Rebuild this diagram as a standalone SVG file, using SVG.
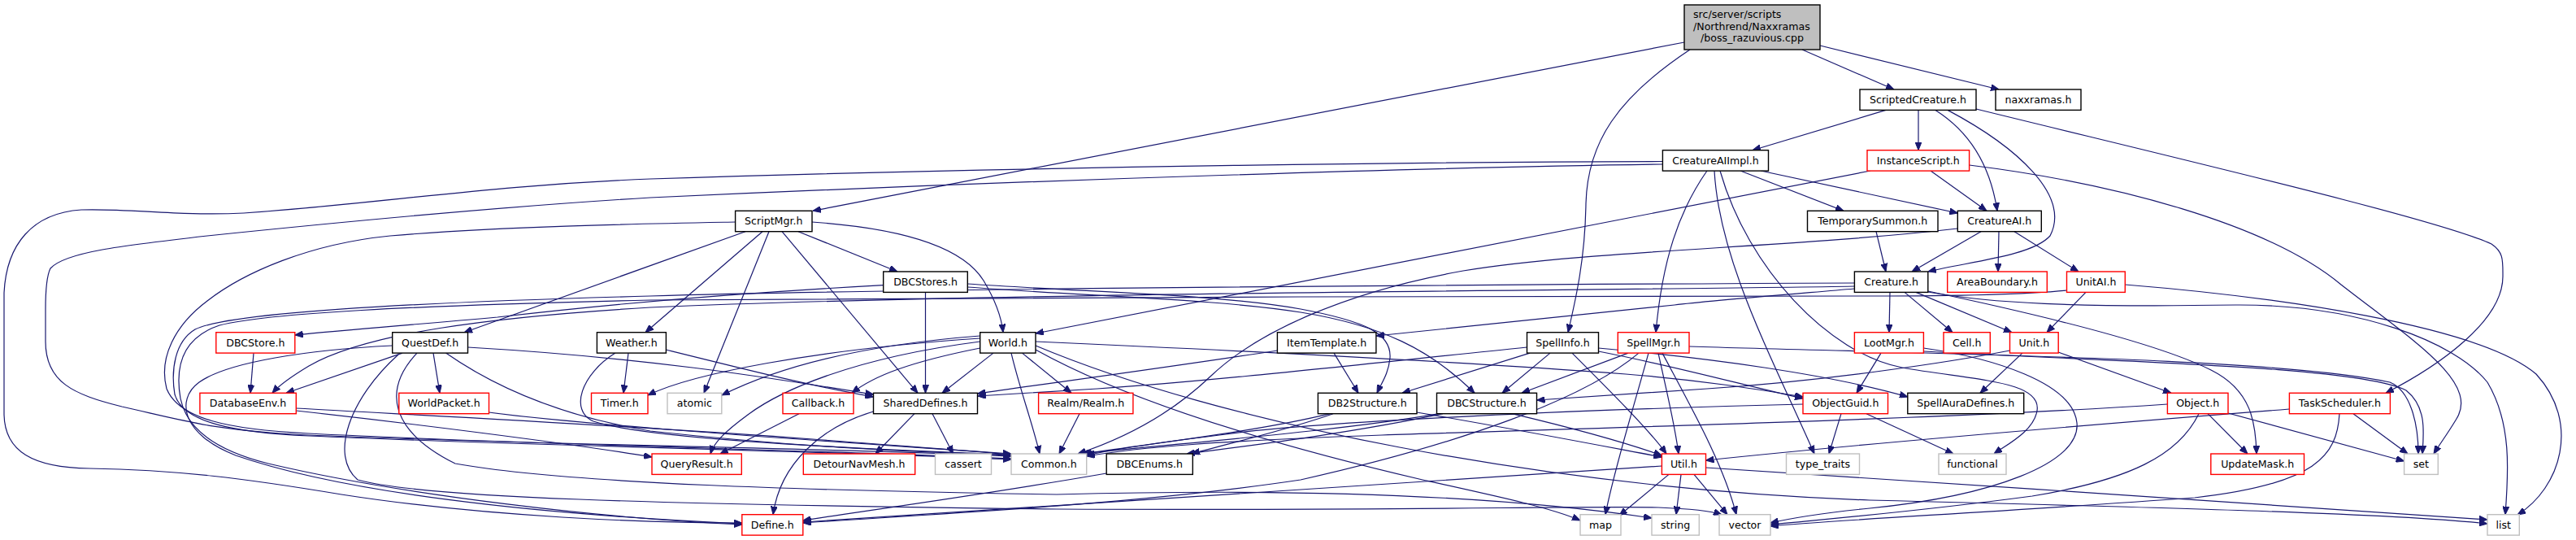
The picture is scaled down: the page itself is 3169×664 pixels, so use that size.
<svg xmlns="http://www.w3.org/2000/svg" width="3169" height="664" viewBox="0 0 3169 664">
<style>
.e{fill:none;stroke:#191970;stroke-width:1.2;marker-end:url(#ah)}
.b rect{fill:#fff;stroke:#000;stroke-width:1.4}
.r rect{fill:#fff;stroke:#ff0000;stroke-width:1.4}
.g rect{fill:#fff;stroke:#bfbfbf;stroke-width:1.4}
.root rect{fill:#bfbfbf;stroke:#000;stroke-width:1.4}
text{font-family:"DejaVu Sans","Liberation Sans",sans-serif;font-size:12.6px;fill:#000;text-anchor:middle}
text.l{text-anchor:start}
</style>
<defs>
<marker id="ah" viewBox="0 0 10 8" refX="10" refY="4" markerWidth="10" markerHeight="8" markerUnits="userSpaceOnUse" orient="auto"><path d="M0,0 L10,4 L0,8 z" fill="#191970" stroke="#191970" stroke-width="1"/></marker>
</defs>
<rect width="3169" height="664" fill="#fff"/>
<g id="edges">
<path class="e" d="M2072,52 L1000,259.3"/>
<path class="e" d="M2079,61 C1990,120 1953,175 1951,250 C1950,320 1938,370 1929,408.7"/>
<path class="e" d="M2217,61 L2330,110"/>
<path class="e" d="M2239,56 L2459,110"/>
<path class="e" d="M2320,135.4 L2156,184.7"/>
<path class="e" d="M2360,135.4 L2360,184.7"/>
<path class="e" d="M2381,135.4 C2420,160 2448,200 2457,259.3"/>
<path class="e" d="M2396,135.4 C2480,180 2548,240 2522,290 C2500,315 2420,322 2372,334"/>
<path class="e" d="M2431,134 C2700,200 3000,270 3065,300 C3080,310 3079,320 3079,340 C3079,395 3000,450 2935,483.3"/>
<path class="e" d="M2301,210 L1274,410"/>
<path class="e" d="M2375,210 L2444,259.3"/>
<path class="e" d="M2422.6,203 C2600,225 2790,275 2880,350 C2970,420 3050,470 3022,515 C3010,535 3000,548 2994,558"/>
<path class="e" d="M2045.4,198.5 C1800,199 1300,204 800,220 C600,228 470,250 300,262 C220,266 160,256 100,258 C40,262 8,300 5,360 L5,510 C6,555 40,575 110,576 C220,578 300,588 420,608 C600,636 800,643 912.8,643"/>
<path class="e" d="M2045.4,202 C1800,205 1300,220 800,243 C600,255 400,275 255,290 C150,302 80,310 62,330 C57,340 56,360 56,380 L56,420 C56,470 90,485 150,500 C230,518 260,528 360,534 C600,546 1000,550 1244,561"/>
<path class="e" d="M2100,210 C2065,260 2045,320 2037,408.7"/>
<path class="e" d="M2109,210 C2115,320 2180,440 2232,558"/>
<path class="e" d="M2116,210 C2150,330 2250,435 2340,452 C2430,468 2512,468 2506,505 C2502,530 2470,546 2453,558"/>
<path class="e" d="M2141,210 L2268,259.3"/>
<path class="e" d="M2166,210 L2408.3,262"/>
<path class="e" d="M2308,284.7 L2320,334"/>
<path class="e" d="M2437,284.7 L2352,334"/>
<path class="e" d="M2459,284.7 L2458,334"/>
<path class="e" d="M2478,284.7 L2557,334"/>
<path class="e" d="M2408.3,281 C2200,305 1950,308 1800,333 C1650,360 1545,410 1490,462 C1440,510 1380,540 1326,558"/>
<path class="e" d="M917,284.7 L571,408.7"/>
<path class="e" d="M938,284.7 L794,408.7"/>
<path class="e" d="M946,284.7 L866,483.3"/>
<path class="e" d="M962,284.7 L1129,483.3"/>
<path class="e" d="M982,284.7 L1104,334"/>
<path class="e" d="M999,273 C1100,280 1182,300 1210,345 C1225,370 1232,390 1234,408.7"/>
<path class="e" d="M904.6,273 C800,275 620,278 480,290 C380,300 300,335 255,370 C215,400 195,440 205,478 C220,515 280,528 380,533 C650,547 1000,553 1244,564"/>
<path class="e" d="M1086.7,350.7 C950,358 800,368 612,390 C500,400 420,406 362.8,412"/>
<path class="e" d="M1138.5,359.4 L1138.5,483.3"/>
<path class="e" d="M1190.3,349 C1350,360 1500,362 1600,380 C1680,395 1712,410 1710,440 C1708,460 1700,470 1694,483.3"/>
<path class="e" d="M1190.3,353 C1350,365 1500,368 1600,384 C1700,400 1760,430 1814,483.3"/>
<path class="e" d="M2281.4,355 C2200,362 2100,370 2060,375 C1900,392 1780,404 1692.9,413"/>
<path class="e" d="M2281.4,352 C2000,357 1200,360 800,378 C600,390 450,410 380,450 C360,462 345,472 335,483.3"/>
<path class="e" d="M2281.4,348 C1800,350 1100,355 800,364 C500,372 280,385 240,405 C215,420 210,455 215,485 C225,520 290,532 380,536 C650,548 1000,554 1244,565"/>
<path class="e" d="M2542.5,357 C2480,363 2400,364 2300,364 L1600,365 C1200,366 1000,366 800,369 C500,376 330,385 270,400 C225,415 215,450 222,490 C230,530 270,555 330,570 C500,610 750,638 912.8,645"/>
<path class="e" d="M2325,359.4 L2324,408.7"/>
<path class="e" d="M2343,359.4 L2402,408.7"/>
<path class="e" d="M2357,359.4 L2475,408.7"/>
<path class="e" d="M2371.8,358 C2500,385 2650,420 2720,455 C2770,480 2775,520 2776,558"/>
<path class="e" d="M2371.8,359 C2450,373 2550,378 2750,375 C2900,374 3020,420 3060,470 C3090,520 3086,580 3082,632.7"/>
<path class="e" d="M2566,359.4 L2518,408.7"/>
<path class="e" d="M2614.3,350 C2800,365 3050,400 3120,460 C3175,520 3150,600 3097,633"/>
<path class="e" d="M2314,434.1 L2284,483.3"/>
<path class="e" d="M2366.4,428 C2450,440 2550,470 2555,520 C2560,570 2450,610 2300,625 C2230,632 2200,638 2178,643"/>
<path class="e" d="M2366.4,432 C2600,445 2900,450 2960,480 C2985,500 2982,530 2980,558"/>
<path class="e" d="M2488,434.1 L2436,483.3"/>
<path class="e" d="M2532,433 L2671,483.3"/>
<path class="e" d="M2472.5,431 C2400,445 2250,468 2100,478 C2000,485 1930,490 1890.5,492"/>
<path class="e" d="M1882,434.1 L1725,483.3"/>
<path class="e" d="M1907,434.1 L1848,483.3"/>
<path class="e" d="M1934,434.1 C1980,480 2030,530 2050,558"/>
<path class="e" d="M1878.5,427 C1700,445 1500,468 1350,478 C1280,482 1230,485 1202.5,487"/>
<path class="e" d="M1966.4,428 C2100,440 2250,460 2346.8,488"/>
<path class="e" d="M1966.4,432 C2060,450 2150,475 2218,490"/>
<path class="e" d="M1641,434.1 L1671,483.3"/>
<path class="e" d="M1571.4,431 C1450,450 1300,470 1202.5,484"/>
<path class="e" d="M2003,434.1 L1872,483.3"/>
<path class="e" d="M2028,434.1 C2010,500 1985,580 1975,632.7"/>
<path class="e" d="M2040,434.1 C2050,480 2060,520 2065,558"/>
<path class="e" d="M2045,434.1 C2080,500 2120,570 2136,632.7"/>
<path class="e" d="M2016,434.1 C1950,490 1800,545 1600,590 C1400,620 1150,632 987.8,643"/>
<path class="e" d="M2078,426 C2400,436 2800,440 2940,470 C2965,480 2975,520 2975,558"/>
<path class="e" d="M1205.7,413 C1050,425 950,455 888,486"/>
<path class="e" d="M1205.7,416 C1000,430 850,460 797,486"/>
<path class="e" d="M1205.7,420 C1050,440 960,480 920,510 C890,532 878,545 874,558"/>
<path class="e" d="M1205.7,428 C1120,445 1075,462 1048,483.3"/>
<path class="e" d="M1222,434.1 L1159,483.3"/>
<path class="e" d="M1244,434.1 C1255,480 1270,520 1279,558"/>
<path class="e" d="M1257.5,434.1 L1318,483.3"/>
<path class="e" d="M1274,420 C1500,430 1800,445 2000,460 C2100,468 2170,480 2218,488"/>
<path class="e" d="M1274,430 C1400,500 1600,555 1750,590 C1850,612 1910,625 1944,640"/>
<path class="e" d="M1274,425 C1500,520 1900,600 2300,615 C2700,625 2950,632 3060,644"/>
<path class="e" d="M773,434.1 L767,483.3"/>
<path class="e" d="M819.4,430 C920,455 1000,475 1074.5,488"/>
<path class="e" d="M757,434.1 C715,460 700,505 730,518 C790,538 1000,550 1244,559"/>
<path class="e" d="M575.5,427 C800,440 950,465 1074.5,485"/>
<path class="e" d="M495,434.1 L352,483.3"/>
<path class="e" d="M533,434.1 L541,483.3"/>
<path class="e" d="M482.7,425 C380,430 280,445 245,470 C215,492 225,535 290,560 C420,605 650,632 912.8,644"/>
<path class="e" d="M548.5,434.1 C600,470 680,510 800,530 C1000,552 1150,556 1244,560"/>
<path class="e" d="M513,434.1 C470,480 480,530 560,570 C700,595 1000,603 1300,608 C1600,600 1850,610 2032,637"/>
<path class="e" d="M490,436 C430,490 405,560 440,590 C520,612 800,620 1300,626 C1700,628 1950,622 2040,624 C2090,626 2110,630 2118,632.7"/>
<path class="e" d="M312,434.1 L308,483.3"/>
<path class="e" d="M364.3,505 C500,520 700,545 802,562"/>
<path class="e" d="M364.3,502 C600,515 800,525 1000,540 C1100,548 1180,553 1244,559"/>
<path class="e" d="M601.5,507 C700,520 900,535 1244,558"/>
<path class="e" d="M983,508.7 L886,558"/>
<path class="e" d="M1074.5,506 C1010,525 960,570 951,632.7"/>
<path class="e" d="M1125,508.7 L1077,558"/>
<path class="e" d="M1147,508.7 L1172.5,558"/>
<path class="e" d="M1328,508.7 L1303,558"/>
<path class="e" d="M1361.2,582 C1200,610 1050,630 987.8,640"/>
<path class="e" d="M1636,508.7 C1550,530 1420,545 1333,558"/>
<path class="e" d="M1640,508.7 C1580,530 1500,548 1466,558"/>
<path class="e" d="M1743,507 C1850,525 1980,550 2044.4,562"/>
<path class="e" d="M1770,508.7 C1650,530 1450,545 1330,558"/>
<path class="e" d="M1775,508.7 C1650,535 1520,550 1460,558"/>
<path class="e" d="M1860,508.7 C1950,530 2010,548 2044.4,560"/>
<path class="e" d="M2265,508.7 L2250,558"/>
<path class="e" d="M2296,508.7 L2403,558"/>
<path class="e" d="M2218,497 C1900,505 1600,520 1500,535 C1420,545 1370,552 1336.7,560"/>
<path class="e" d="M2716,508.7 L2765,558"/>
<path class="e" d="M2741,508 L2957.6,567"/>
<path class="e" d="M2705,508.7 C2680,560 2620,590 2500,610 C2350,630 2250,638 2178,645"/>
<path class="e" d="M2666.4,497 C2400,515 2000,525 1700,535 C1500,542 1400,550 1336.7,561"/>
<path class="e" d="M2895,508.7 L2962,558"/>
<path class="e" d="M2816.4,503 C2600,520 2300,545 2098.5,566"/>
<path class="e" d="M2878,508.7 C2875,560 2850,595 2700,612 C2450,630 2250,640 2178,647"/>
<path class="e" d="M2044.4,573 C1800,590 1400,615 987.8,642"/>
<path class="e" d="M2053,583.4 L1992,634"/>
<path class="e" d="M2068,583.4 L2062,632.7"/>
<path class="e" d="M2084,583.4 L2125,632.7"/>
<path class="e" d="M2098.5,575 C2400,595 2800,620 3060,639"/>
</g>
<g id="n_root" class="root"><rect x="2072" y="6" width="167" height="55"/><text class="l" x="2083" y="21.5">src/server/scripts</text><text class="l" x="2083" y="36.5">/Northrend/Naxxramas</text><text x="2155.5" y="51">/boss_razuvious.cpp</text></g>
<g id="n_ScriptedCreature" class="b"><rect x="2288" y="110" width="143" height="25.4"/><text x="2359.5" y="126.8">ScriptedCreature.h</text></g>
<g id="n_naxxramas" class="b"><rect x="2455" y="110" width="105" height="25.4"/><text x="2507.5" y="126.8">naxxramas.h</text></g>
<g id="n_CreatureAIImpl" class="b"><rect x="2045.4" y="184.7" width="130.1" height="25.4"/><text x="2110.45" y="201.5">CreatureAIImpl.h</text></g>
<g id="n_InstanceScript" class="r"><rect x="2297" y="184.7" width="125.6" height="25.4"/><text x="2359.8" y="201.5">InstanceScript.h</text></g>
<g id="n_ScriptMgr" class="b"><rect x="904.6" y="259.3" width="94.4" height="25.4"/><text x="951.8" y="276.1">ScriptMgr.h</text></g>
<g id="n_TemporarySummon" class="b"><rect x="2223.5" y="259.3" width="160.5" height="25.4"/><text x="2303.75" y="276.1">TemporarySummon.h</text></g>
<g id="n_CreatureAI" class="b"><rect x="2408.3" y="259.3" width="103" height="25.4"/><text x="2459.8" y="276.1">CreatureAI.h</text></g>
<g id="n_DBCStores" class="b"><rect x="1086.7" y="334" width="103.6" height="25.4"/><text x="1138.5" y="350.8">DBCStores.h</text></g>
<g id="n_Creature" class="b"><rect x="2281.4" y="334" width="90.4" height="25.4"/><text x="2326.6" y="350.8">Creature.h</text></g>
<g id="n_AreaBoundary" class="r"><rect x="2395.7" y="334" width="122.6" height="25.4"/><text x="2457" y="350.8">AreaBoundary.h</text></g>
<g id="n_UnitAI" class="r"><rect x="2542.5" y="334" width="71.8" height="25.4"/><text x="2578.4" y="350.8">UnitAI.h</text></g>
<g id="n_DBCStore" class="r"><rect x="265.8" y="408.7" width="97" height="25.4"/><text x="314.3" y="425.5">DBCStore.h</text></g>
<g id="n_QuestDef" class="b"><rect x="482.7" y="408.7" width="92.8" height="25.4"/><text x="529.1" y="425.5">QuestDef.h</text></g>
<g id="n_Weather" class="b"><rect x="734.4" y="408.7" width="85" height="25.4"/><text x="776.9" y="425.5">Weather.h</text></g>
<g id="n_World" class="b"><rect x="1205.7" y="408.7" width="68.3" height="25.4"/><text x="1239.85" y="425.5">World.h</text></g>
<g id="n_ItemTemplate" class="b"><rect x="1571.4" y="408.7" width="121.5" height="25.4"/><text x="1632.15" y="425.5">ItemTemplate.h</text></g>
<g id="n_SpellInfo" class="b"><rect x="1878.5" y="408.7" width="88" height="25.4"/><text x="1922.5" y="425.5">SpellInfo.h</text></g>
<g id="n_SpellMgr" class="r"><rect x="1990.3" y="408.7" width="87.7" height="25.4"/><text x="2034.15" y="425.5">SpellMgr.h</text></g>
<g id="n_LootMgr" class="r"><rect x="2281.4" y="408.7" width="85" height="25.4"/><text x="2323.9" y="425.5">LootMgr.h</text></g>
<g id="n_Cell" class="r"><rect x="2391" y="408.7" width="57.3" height="25.4"/><text x="2419.65" y="425.5">Cell.h</text></g>
<g id="n_Unit" class="r"><rect x="2472.5" y="408.7" width="59.7" height="25.4"/><text x="2502.35" y="425.5">Unit.h</text></g>
<g id="n_DatabaseEnv" class="r"><rect x="245.9" y="483.3" width="118.4" height="25.4"/><text x="305.1" y="500.1">DatabaseEnv.h</text></g>
<g id="n_WorldPacket" class="r"><rect x="490.8" y="483.3" width="110.7" height="25.4"/><text x="546.15" y="500.1">WorldPacket.h</text></g>
<g id="n_Timer" class="r"><rect x="727.5" y="483.3" width="69.5" height="25.4"/><text x="762.25" y="500.1">Timer.h</text></g>
<g id="n_atomic" class="g"><rect x="821" y="483.3" width="66.8" height="25.4"/><text x="854.4" y="500.1">atomic</text></g>
<g id="n_Callback" class="r"><rect x="963" y="483.3" width="87" height="25.4"/><text x="1006.5" y="500.1">Callback.h</text></g>
<g id="n_SharedDefines" class="b"><rect x="1074.5" y="483.3" width="128" height="25.4"/><text x="1138.5" y="500.1">SharedDefines.h</text></g>
<g id="n_Realm" class="r"><rect x="1277.6" y="483.3" width="116.3" height="25.4"/><text x="1335.75" y="500.1">Realm/Realm.h</text></g>
<g id="n_DB2Structure" class="b"><rect x="1621.4" y="483.3" width="121.6" height="25.4"/><text x="1682.2" y="500.1">DB2Structure.h</text></g>
<g id="n_DBCStructure" class="b"><rect x="1767.5" y="483.3" width="123" height="25.4"/><text x="1829" y="500.1">DBCStructure.h</text></g>
<g id="n_ObjectGuid" class="r"><rect x="2218" y="483.3" width="104.5" height="25.4"/><text x="2270.25" y="500.1">ObjectGuid.h</text></g>
<g id="n_SpellAuraDefines" class="b"><rect x="2346.8" y="483.3" width="142.9" height="25.4"/><text x="2418.25" y="500.1">SpellAuraDefines.h</text></g>
<g id="n_Object" class="r"><rect x="2666.4" y="483.3" width="74.6" height="25.4"/><text x="2703.7" y="500.1">Object.h</text></g>
<g id="n_TaskScheduler" class="r"><rect x="2816.4" y="483.3" width="124" height="25.4"/><text x="2878.4" y="500.1">TaskScheduler.h</text></g>
<g id="n_QueryResult" class="r"><rect x="802" y="558" width="110.3" height="25.4"/><text x="857.15" y="574.8">QueryResult.h</text></g>
<g id="n_DetourNavMesh" class="r"><rect x="988.3" y="558" width="137.4" height="25.4"/><text x="1057" y="574.8">DetourNavMesh.h</text></g>
<g id="n_cassert" class="g"><rect x="1150.5" y="558" width="69" height="25.4"/><text x="1185" y="574.8">cassert</text></g>
<g id="n_Common" class="g"><rect x="1244" y="558" width="92.7" height="25.4"/><text x="1290.35" y="574.8">Common.h</text></g>
<g id="n_DBCEnums" class="b"><rect x="1361.2" y="558" width="106.1" height="25.4"/><text x="1414.25" y="574.8">DBCEnums.h</text></g>
<g id="n_Util" class="r"><rect x="2044.4" y="558" width="54.1" height="25.4"/><text x="2071.45" y="574.8">Util.h</text></g>
<g id="n_type_traits" class="g"><rect x="2197.5" y="558" width="90" height="25.4"/><text x="2242.5" y="574.8">type_traits</text></g>
<g id="n_functional" class="g"><rect x="2385" y="558" width="83" height="25.4"/><text x="2426.5" y="574.8">functional</text></g>
<g id="n_UpdateMask" class="r"><rect x="2719.8" y="558" width="114.7" height="25.4"/><text x="2777.15" y="574.8">UpdateMask.h</text></g>
<g id="n_set" class="g"><rect x="2957.6" y="558" width="41.7" height="25.4"/><text x="2978.45" y="574.8">set</text></g>
<g id="n_Define" class="r"><rect x="912.8" y="632.7" width="75" height="25.4"/><text x="950.3" y="649.5">Define.h</text></g>
<g id="n_map" class="g"><rect x="1944" y="632.7" width="50" height="25.4"/><text x="1969" y="649.5">map</text></g>
<g id="n_string" class="g"><rect x="2032" y="632.7" width="58.3" height="25.4"/><text x="2061.15" y="649.5">string</text></g>
<g id="n_vector" class="g"><rect x="2115" y="632.7" width="63" height="25.4"/><text x="2146.5" y="649.5">vector</text></g>
<g id="n_list" class="g"><rect x="3060" y="632.7" width="39.3" height="25.4"/><text x="3079.65" y="649.5">list</text></g>
</svg>
